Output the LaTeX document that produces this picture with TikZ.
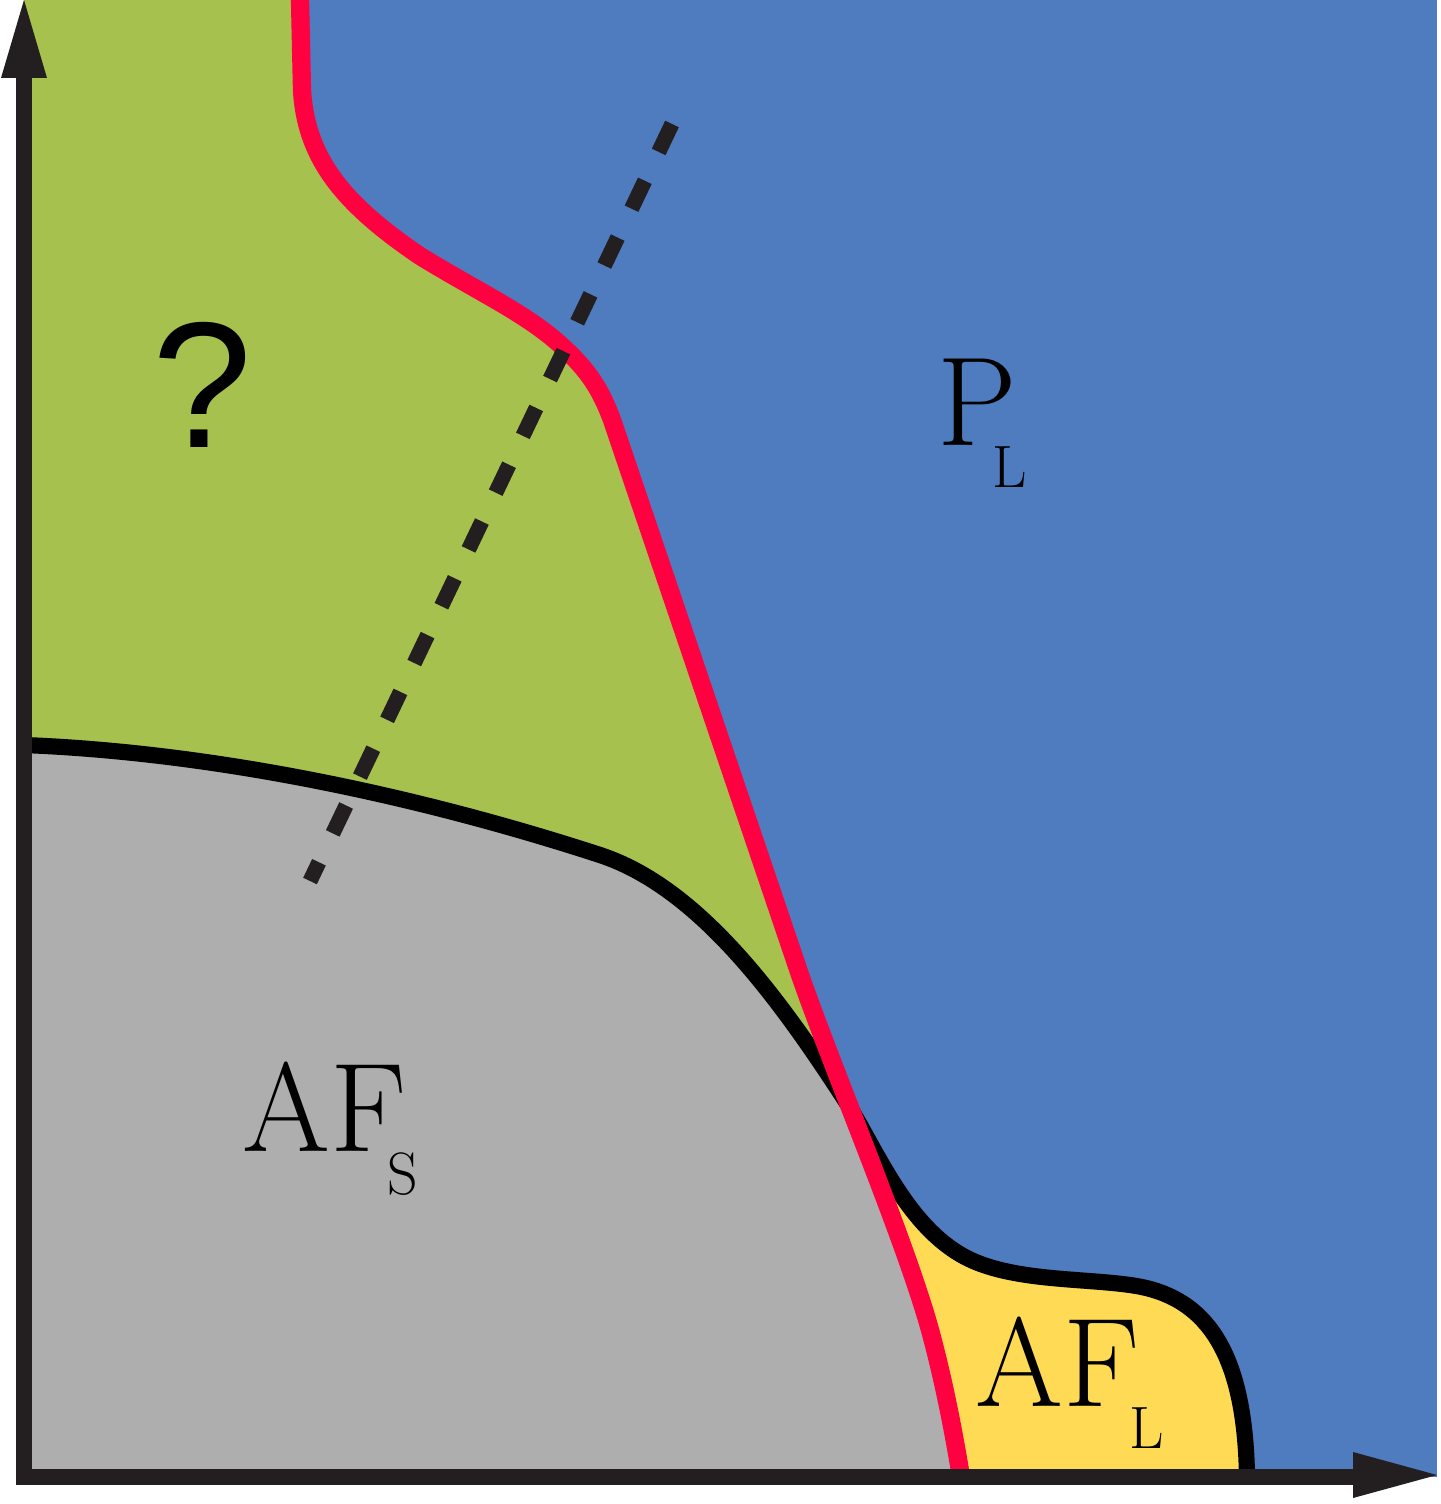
\documentclass[tikz,border=0pt]{standalone}
\usepackage{fontspec}
\newfontfamily\qfont{Liberation Sans}
\definecolor{pblue}{HTML}{4F7BBF}
\definecolor{pgreen}{HTML}{A7C14F}
\definecolor{pgray}{HTML}{AEAEAE}
\definecolor{pyellow}{HTML}{FFDB55}
\definecolor{pred}{HTML}{FF0040}
\definecolor{pblack}{HTML}{231F20}
\begin{document}
\begin{tikzpicture}[x=0.01cm,y=-0.01cm,
  redline/.style={insert path={-- (302,90) .. controls (306,160) and (345,205) .. (420,256)
     .. controls (480,293) and (530,315) .. (566,350)
     .. controls (588,371) and (600,388) .. (612,420) -- (800,975)
     .. controls (835,1075) and (905,1240) .. (930,1330)
     .. controls (945,1385) and (955,1440) .. (961,1477)}},
  blackline/.style={insert path={-- (24,745) .. controls (200,752) and (400,790) .. (600,855)
     .. controls (700,888) and (780,1000) .. (845,1100)
     .. controls (875,1146) and (905,1225) .. (965,1257)
     .. controls (1010,1281) and (1080,1278) .. (1130,1285)
     .. controls (1205,1295) and (1245,1350) .. (1247,1477)}},
  redstroke/.style={draw=pred,line width=5.2pt,line join=round},
  blackstroke/.style={draw=black,line width=4.6pt,line join=round},
  dashstroke/.style={draw=pblack,line width=4.3pt,dash pattern=on 8.8pt off 9.1pt},
  axisstroke/.style={draw=pblack,line width=4.4pt,line join=miter},
  mainlabel/.style={anchor=base west,inner sep=0pt,font=\fontsize{36}{40}\selectfont}]
\useasboundingbox (0,0) rectangle (1440,1504);
% regions
\fill[pblue] (24,0) rectangle (1437,1477);
\fill[pgreen] (24,0) -- (300,0) [redline] -- (24,1477) -- cycle;
\begin{scope}
  \clip (0,0) -- (300,0) [redline] -- (0,1504) -- cycle;
  \fill[pgray] (24,745) [blackline] -- (24,1477) -- cycle;
\end{scope}
\begin{scope}
  \clip (1440,0) -- (300,0) [redline] -- (1440,1504) -- cycle;
  \fill[pyellow] (24,745) [blackline] -- (24,1477) -- cycle;
\end{scope}
% boundaries
\draw[blackstroke] (24,745) [blackline];
\draw[redstroke] (300,0) [redline];
\coordinate (dtop) at (672,124);
\coordinate (dbot) at (310,881);
\draw[dashstroke] (dtop) -- (dbot);
% axes
\coordinate (ytip) at (24,0);
\coordinate (ybase) at (24,78);
\coordinate (origin) at (24,1477);
\coordinate (xbase) at (1353,1477);
\coordinate (xtip) at (1437,1475);
\draw[axisstroke] (ybase) -- (origin) -- (xbase);
\fill[pblack] (ytip) -- (1,78) -- (47,78) -- cycle;
\fill[pblack] (xtip) -- (1353,1452) -- (1353,1498) -- cycle;
% labels
\node[anchor=base,inner sep=0pt,font=\qfont\fontsize{51}{56}\selectfont] (qmark) at (202,448) {?};
\node[mainlabel] (pl) at (937,446) {P\kern-6.9pt\raisebox{-11.7pt}{\fontsize{17}{20}\selectfont L}};
\node[mainlabel] (afs) at (242,1151) {AF\kern-5.5pt\raisebox{-12.5pt}{\fontsize{17}{20}\selectfont S}};
\node[mainlabel] (afl) at (975,1406) {AF\kern-3.0pt\raisebox{-12.2pt}{\fontsize{17}{20}\selectfont L}};
\end{tikzpicture}
\end{document}
